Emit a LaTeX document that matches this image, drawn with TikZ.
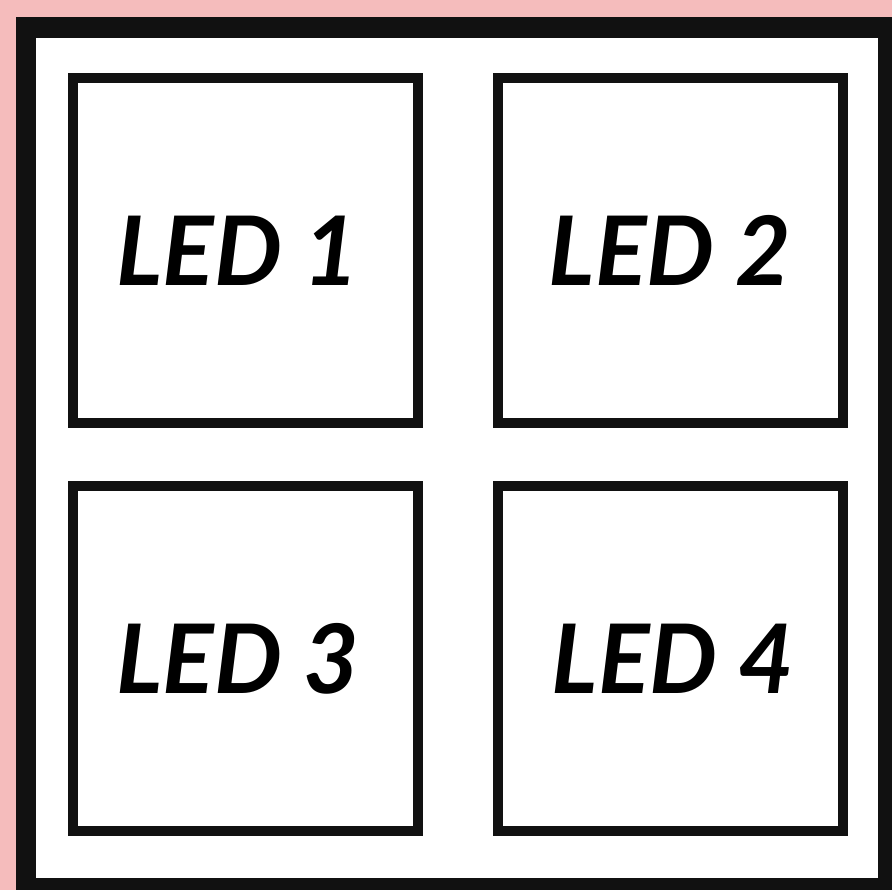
\documentclass[tikz,border=0pt]{standalone}
\usepackage{fontspec}
\setmainfont{Lato}
\definecolor{pinkbg}{RGB}{245,188,188}
\definecolor{ink}{RGB}{17,17,17}
\begin{document}
\begin{tikzpicture}[x=1pt,y=-1pt,
  ledbox/.style={draw=ink, line width=10pt, fill=white, minimum width=345pt, minimum height=345pt, inner sep=0pt,
    font=\fontsize{96}{100}\selectfont\bfseries\itshape, text=black}]
\useasboundingbox (0,0) rectangle (892,890);
\fill[pinkbg] (0,0) rectangle (892,890);
\fill[ink] (16,17) rectangle (892,890);
\fill[white] (36,38) rectangle (878,878);
\node[ledbox] (led1) at (245.5,250.5) {\raisebox{-1.5pt}{LED 1}\hspace*{16pt}};
\node[ledbox] (led2) at (670,250.5) {\raisebox{-1.5pt}{LED 2}};
\node[ledbox] (led3) at (245.5,658.5) {\raisebox{-1pt}{LED 3}\hspace*{16pt}};
\node[ledbox] (led4) at (670,658.5) {\hspace*{6pt}\raisebox{-1pt}{LED 4}};
\end{tikzpicture}
\end{document}
